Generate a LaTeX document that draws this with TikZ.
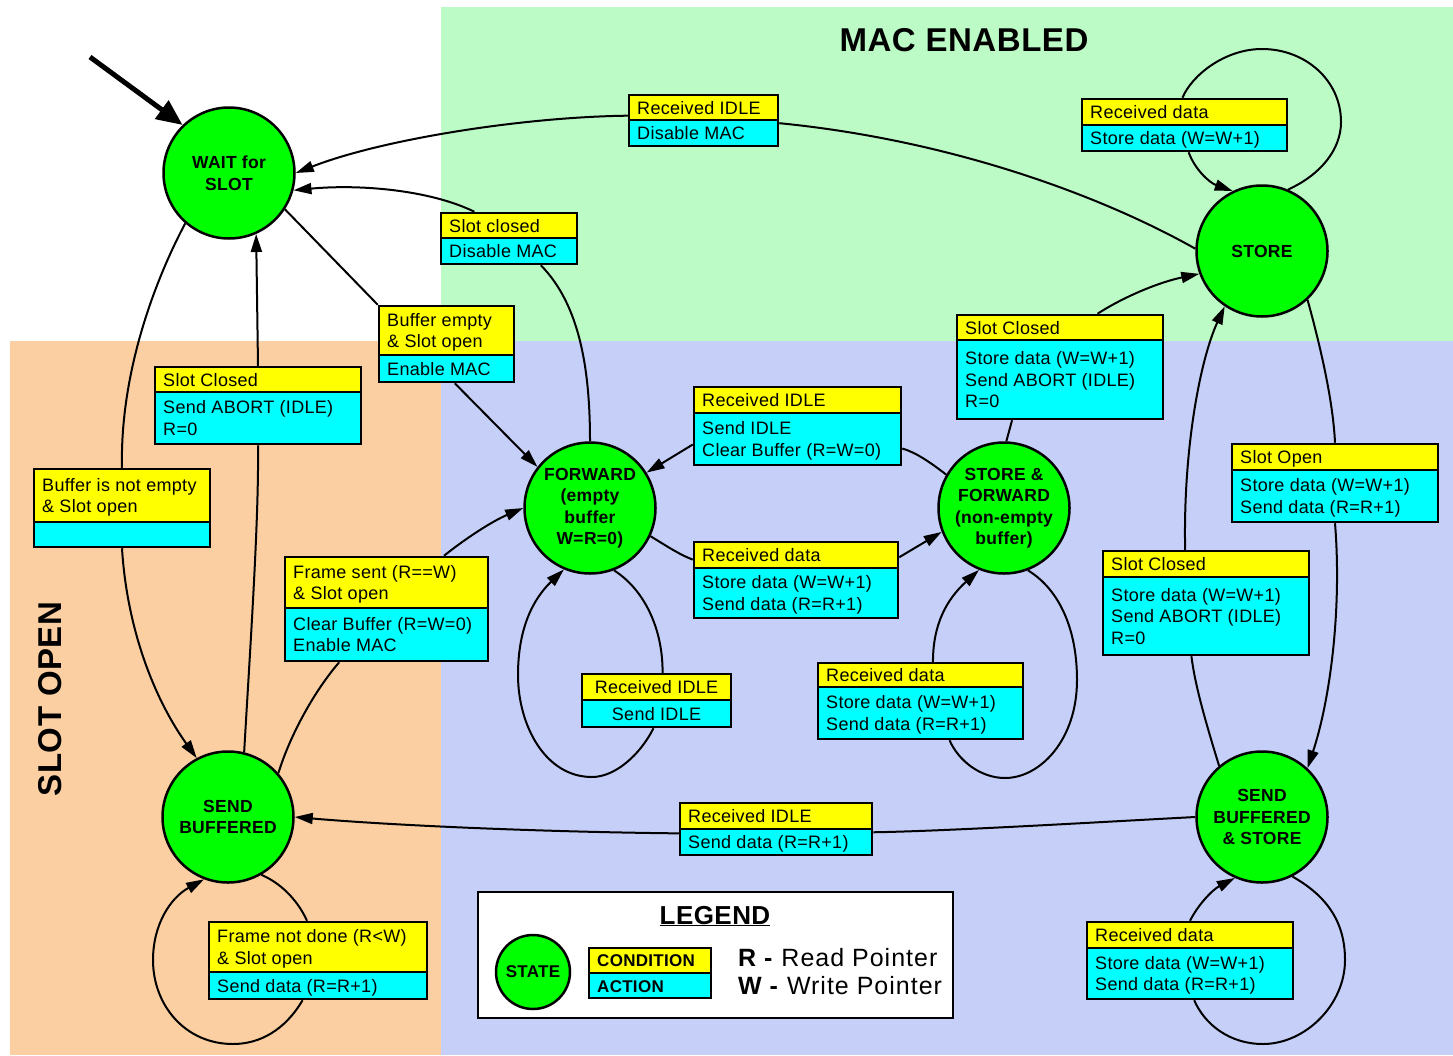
\documentclass[tikz,border=0pt]{standalone}
\usepackage{fontspec}
\setmainfont{Liberation Sans}[LetterSpace=1.7]
\newfontfamily\legfont{Liberation Sans}[LetterSpace=4]
\usetikzlibrary{arrows.meta,fit,calc}
\definecolor{macgreen}{RGB}{188,250,198}
\definecolor{slotorange}{RGB}{251,207,161}
\definecolor{regblue}{RGB}{198,207,247}
\definecolor{condyellow}{RGB}{255,255,0}
\definecolor{actcyan}{RGB}{0,255,255}
\definecolor{stategreen}{RGB}{0,255,0}
% label box: name, x1, y1, x2, ydiv, y2, condition, action
\newcommand{\labbox}[8]{%
  \fill[condyellow] (#2,#3) rectangle (#4,#5);
  \fill[actcyan] (#2,#5) rectangle (#4,#6);
  \draw[boxline] (#2,#5) -- (#4,#5);
  \node[fit={(#2,#3) (#4,#6)}, inner sep=0pt, draw, boxline] (#1) {};
  \node[lbltext, anchor=west] at (#2+8,{(#3+#5)/2+2.2}) {\begin{tabular}{@{}l@{}}#7\end{tabular}};
  \node[lbltext, anchor=west] at (#2+8,{(#5+#6)/2+2.2}) {\begin{tabular}{@{}l@{}}#8\end{tabular}};
}
\newcommand{\labboxc}[8]{%
  \fill[condyellow] (#2,#3) rectangle (#4,#5);
  \fill[actcyan] (#2,#5) rectangle (#4,#6);
  \draw[boxline] (#2,#5) -- (#4,#5);
  \node[fit={(#2,#3) (#4,#6)}, inner sep=0pt, draw, boxline] (#1) {};
  \node[lbltext] at ({(#2+#4)/2},{(#3+#5)/2+2.2}) {\begin{tabular}{@{}c@{}}#7\end{tabular}};
  \node[lbltext] at ({(#2+#4)/2},{(#5+#6)/2+2.2}) {\begin{tabular}{@{}c@{}}#8\end{tabular}};
}
\begin{document}
\begin{tikzpicture}[x=1pt,y=-1pt,
  fsmstate/.style={circle, draw, fill=stategreen, line width=2.5pt, minimum size=131pt, inner sep=0pt,
     align=center, font=\bfseries\fontsize{17.5}{21.5}\selectfont},
  conn/.style={line width=2pt, line join=round},
  arr/.style={-{Triangle[length=18pt,width=11pt]}},
  boxline/.style={line width=2.5pt},
  lbltext/.style={inner sep=0pt, font=\fontsize{18}{21.5}\selectfont},
]
\useasboundingbox (0,0) rectangle (1453,1055);
% regions
\fill[white] (0,0) rectangle (1453,1055);
\fill[macgreen] (441,7) rectangle (1453,341);
\fill[slotorange] (10,341) rectangle (441,1055);
\fill[regblue] (441,341) rectangle (1453,1055);

\node[font=\bfseries\fontsize{33}{38}\selectfont] (mactitle) at (964,40) {MAC ENABLED};
\node[font=\bfseries\fontsize{33}{38}\selectfont, rotate=90] (slottitle) at (50,699) {SLOT OPEN};

% states
\node[fsmstate] (wait) at (229,173) {WAIT for\\SLOT};
\node[fsmstate] (store) at (1262,251) {STORE};
\node[fsmstate] (fwd) at (590,508) {FORWARD\\(empty\\buffer\\W=R=0)};
\node[fsmstate] (sf) at (1004,508) {STORE \&\\FORWARD\\(non-empty\\buffer)};
\node[fsmstate] (sbuf) at (228,817) {SEND\\BUFFERED};
\node[fsmstate] (sbs) at (1262,817) {SEND\\BUFFERED\\\& STORE};

% label boxes
\labbox{l1}{629}{95}{778}{120}{146}{Received IDLE}{Disable MAC}
\labbox{l2}{1082}{99}{1287}{125}{151}{Received data}{Store data (W=W+1)}
\labbox{l3}{441}{213}{577}{238}{264}{Slot closed}{Disable MAC}
\labbox{l4}{379}{306}{514}{355}{382}{Buffer empty\\\& Slot open}{Enable MAC}
\labbox{l5}{155}{367}{361}{392}{444}{Slot Closed}{Send ABORT (IDLE)\\R=0}
\labbox{l6}{34}{469}{210}{522}{547}{Buffer is not empty\\\& Slot open}{}
\labbox{l7}{285}{557}{488}{608}{661}{Frame sent (R==W)\\\& Slot open}{Clear Buffer (R=W=0)\\Enable MAC}
\labbox{l8}{694}{387}{901}{413}{465}{Received IDLE}{Send IDLE\\Clear Buffer (R=W=0)}
\labbox{l9}{694}{542}{898}{568}{618}{Received data}{Store data (W=W+1)\\Send data (R=R+1)}
\labbox{l10}{957}{315}{1163}{340}{419}{Slot Closed}{Store data (W=W+1)\\Send ABORT (IDLE)\\R=0}
\labbox{l11}{1232}{444}{1438}{470}{522}{Slot Open}{Store data (W=W+1)\\Send data (R=R+1)}
\labbox{l12}{1103}{551}{1309}{577}{655}{Slot Closed}{Store data (W=W+1)\\Send ABORT (IDLE)\\R=0}
\labboxc{l13}{582}{674}{731}{700}{727}{Received IDLE}{Send IDLE}
\labbox{l14}{818}{663}{1023}{687}{739}{Received data}{Store data (W=W+1)\\Send data (R=R+1)}
\labbox{l15}{680}{803}{872}{829}{855}{Received IDLE}{Send data (R=R+1)}
\labbox{l16}{209}{922}{427}{972}{999}{Frame not done (R<W)\\\& Slot open}{Send data (R=R+1)}
\labbox{l17}{1087}{922}{1293}{948}{999}{Received data}{Store data (W=W+1)\\Send data (R=R+1)}

% initial arrow
\coordinate (init) at (90,57);
\draw[line width=5pt, -{Triangle[length=26pt,width=22pt]}] (init) -- (wait.134);

% STORE -> WAIT (Received IDLE)
\draw[conn] (store.178) .. controls (1100,195) and (950,140) .. ($(l1.north east)!0.55!(l1.south east)$);
\draw[conn,arr] ($(l1.north west)!0.41!(l1.south west)$) .. controls (520,117) and (380,140) .. (wait.east);
% STORE loop
\draw[conn] (store.67) .. controls (1320,175) and (1341,150) .. (1341,122) .. controls (1341,80) and (1305,49) .. (1262,49) .. controls (1225,49) and (1192,75) .. ($(l2.north west)!0.49!(l2.north east)$);
\draw[conn,arr] ($(l2.south west)!0.52!(l2.south east)$) .. controls (1195,170) and (1210,183) .. (store.116);
% FORWARD -> WAIT (Slot closed)
\draw[conn] (fwd.north) .. controls (590,370) and (580,305) .. ($(l3.south west)!0.73!(l3.south east)$);
\draw[conn,arr] ($(l3.north west)!0.25!(l3.north east)$) .. controls (430,190) and (360,184) .. (wait.-15);
% WAIT -> FORWARD (Buffer empty)
\draw[conn] (wait.-33) -- (l4.north west);
\draw[conn,arr] ($(l4.south west)!0.56!(l4.south east)$) -- (fwd.142);
% SEND BUFFERED -> WAIT (Slot Closed)
\draw[conn] (sbuf.76) .. controls (250,650) and (259,520) .. (l5.south);
\draw[conn,arr] (l5.north) -- (wait.-66);
% WAIT -> SEND BUFFERED
\draw[conn] (wait.-131) .. controls (150,290) and (120,380) .. (l6.north);
\draw[conn,arr] (l6.south) .. controls (127,630) and (155,700) .. (sbuf.118);
% SEND BUFFERED -> FORWARD
\draw[conn] (sbuf.41) .. controls (290,735) and (315,690) .. ($(l7.south west)!0.27!(l7.south east)$);
\draw[conn,arr] ($(l7.north west)!0.78!(l7.north east)$) .. controls (470,535) and (495,520) .. (fwd.west);
% S&F -> FORWARD
\draw[conn] (sf.150) .. controls (930,462) and (915,452) .. ($(l8.north east)!0.78!(l8.south east)$);
\draw[conn,arr] ($(l8.north west)!0.73!(l8.south west)$) -- (fwd.32);
% FORWARD -> S&F
\draw[conn] (fwd.-25) .. controls (665,545) and (680,555) .. ($(l9.north west)!0.24!(l9.south west)$);
\draw[conn,arr] ($(l9.north east)!0.21!(l9.south east)$) -- (sf.201);
% S&F -> STORE
\draw[conn] (sf.88) -- ($(l10.south west)!0.27!(l10.south east)$);
\draw[conn,arr] ($(l10.north west)!0.68!(l10.north east)$) .. controls (1125,296) and (1160,282) .. (store.200);
% STORE -> SBS
\draw[conn] (store.-47) .. controls (1320,345) and (1333,400) .. (l11.north);
\draw[conn,arr] (l11.south) .. controls (1342,610) and (1330,700) .. (sbs.47);
% SBS -> STORE
\draw[conn] (sbs.130) .. controls (1205,720) and (1195,685) .. ($(l12.south west)!0.43!(l12.south east)$);
\draw[conn,arr] ($(l12.north west)!0.40!(l12.north east)$) .. controls (1183,450) and (1200,360) .. (store.236);
% SBS -> SEND BUFFERED
\draw[conn] (sbs.west) .. controls (1100,822) and (950,831) .. ($(l15.north east)!0.56!(l15.south east)$);
\draw[conn,arr] ($(l15.north west)!0.58!(l15.south west)$) .. controls (550,832) and (400,826) .. (sbuf.east);
% FORWARD loop
\draw[conn] (fwd.-69) .. controls (645,590) and (663,630) .. ($(l13.north west)!0.54!(l13.north east)$);
\draw[conn,arr] ($(l13.south west)!0.48!(l13.south east)$) .. controls (640,755) and (615,777) .. (592,777) .. controls (545,777) and (518,725) .. (518,675) .. controls (518,630) and (532,600) .. (fwd.-113);
% S&F loop
\draw[conn] (sf.-69) .. controls (1060,590) and (1077,630) .. (1077,680) .. controls (1077,740) and (1040,778) .. (1005,778) .. controls (980,778) and (958,760) .. ($(l14.south west)!0.64!(l14.south east)$);
\draw[conn,arr] ($(l14.north west)!0.56!(l14.north east)$) .. controls (933,625) and (946,600) .. (sf.-112);
% SEND BUFFERED loop
\draw[conn] (sbuf.-60) .. controls (285,885) and (300,905) .. ($(l16.north west)!0.45!(l16.north east)$);
\draw[conn,arr] ($(l16.south west)!0.43!(l16.south east)$) .. controls (285,1030) and (260,1044) .. (233,1044) .. controls (185,1044) and (153,1005) .. (153,960) .. controls (153,925) and (170,898) .. (sbuf.-111);
% SBS loop
\draw[conn] (sbs.-63) .. controls (1325,895) and (1345,920) .. (1345,960) .. controls (1345,1005) and (1305,1044) .. (1263,1044) .. controls (1230,1044) and (1205,1025) .. ($(l17.south west)!0.52!(l17.south east)$);
\draw[conn,arr] ($(l17.north west)!0.50!(l17.north east)$) .. controls (1198,905) and (1212,890) .. (sbs.-114);

% legend
\node[fit={(478,892) (953,1018)}, inner sep=0pt, draw, fill=white, boxline] (legend) {};
\node[font=\bfseries\fontsize{26}{30}\selectfont, anchor=base, inner sep=0pt] (legtitle) at (715,924) {\underline{LEGEND}};
\node[fsmstate, minimum size=74pt, font=\bfseries\fontsize{17}{20}\selectfont] (legstate) at (533,972) {STATE};
\fill[condyellow] (589,948) rectangle (711,973);
\fill[actcyan] (589,973) rectangle (711,998);
\draw[boxline] (589,973) -- (711,973);
\node[fit={(589,948) (711,998)}, inner sep=0pt, draw, boxline] (legbox) {};
\node[inner sep=0pt, anchor=base west, font=\bfseries\fontsize{17}{20}\selectfont] (legcond) at (597,966) {CONDITION};
\node[inner sep=0pt, anchor=base west, font=\bfseries\fontsize{17}{20}\selectfont] (legact) at (597,992) {ACTION};
\node[inner sep=0pt, anchor=base west, font=\legfont\fontsize{25}{29}\selectfont] (legr) at (738,966) {\textbf{R -} Read Pointer};
\node[inner sep=0pt, anchor=base west, font=\legfont\fontsize{25}{29}\selectfont] (legw) at (738,994) {\textbf{W -} Write Pointer};
\end{tikzpicture}
\end{document}
